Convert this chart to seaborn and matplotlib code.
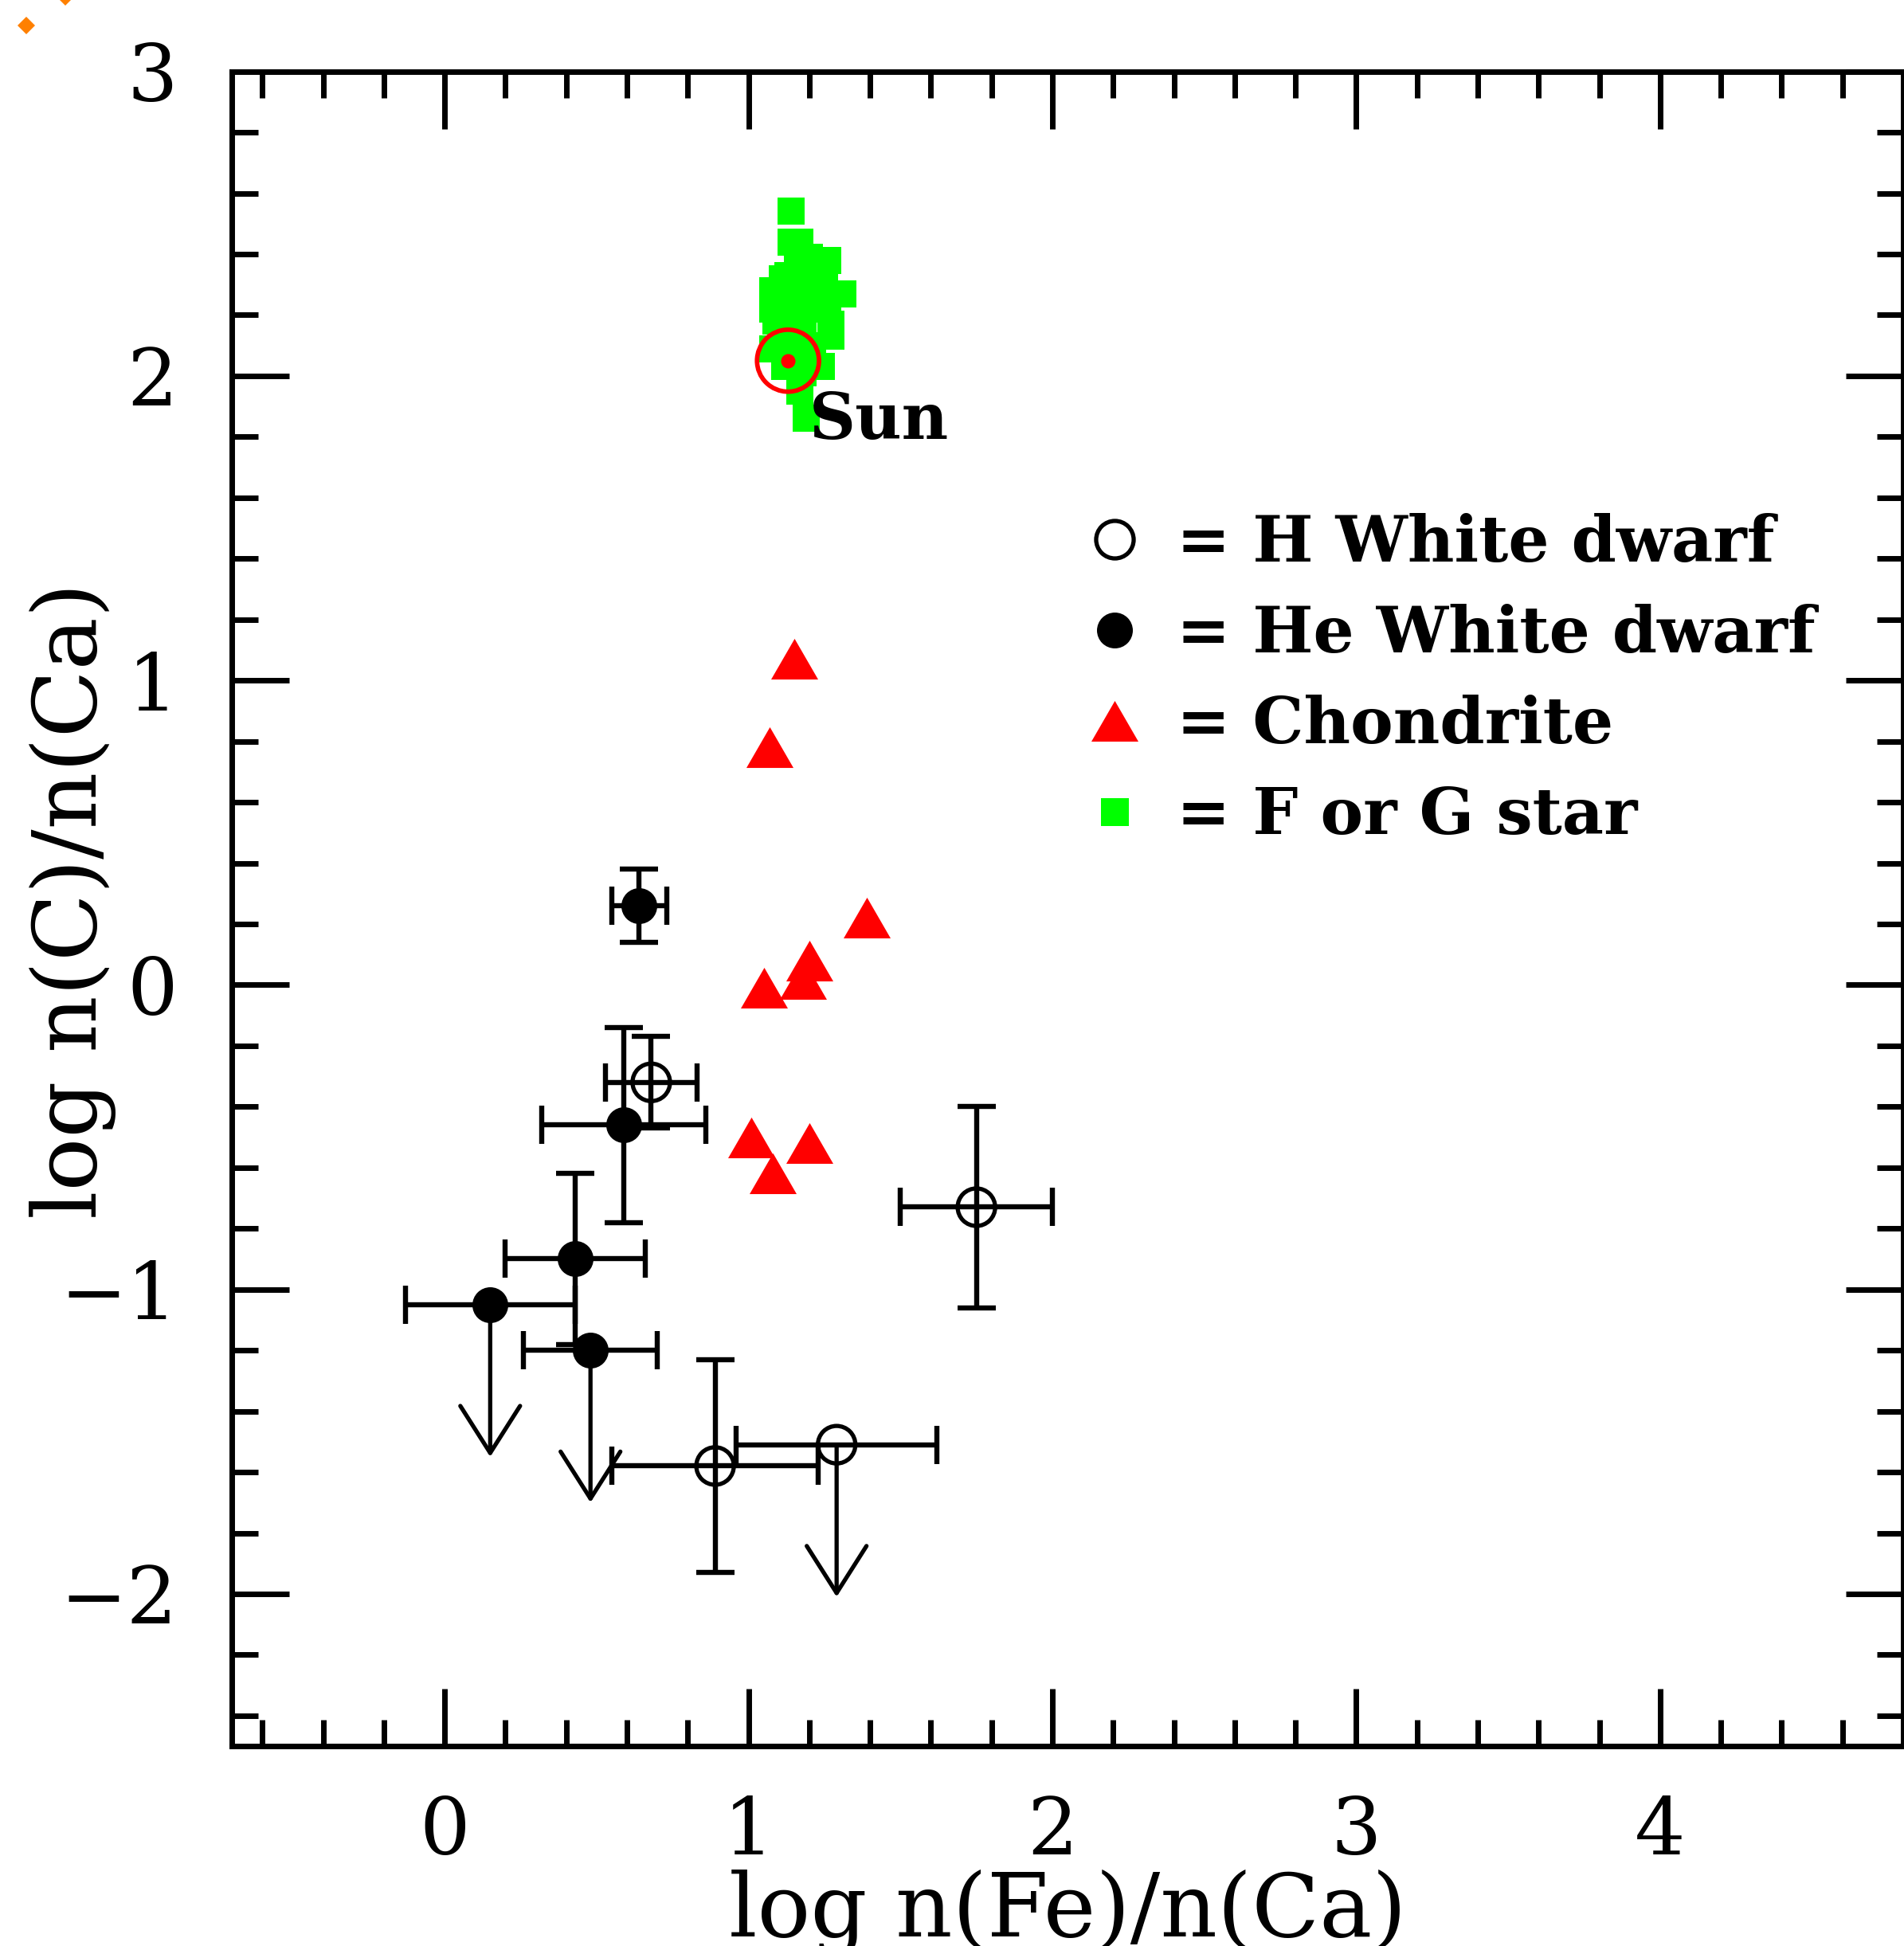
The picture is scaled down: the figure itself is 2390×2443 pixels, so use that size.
import numpy as np
import matplotlib
matplotlib.use("Agg")
import matplotlib.pyplot as plt
from matplotlib.lines import Line2D
from matplotlib.ticker import MultipleLocator
import seaborn as sns

# He white dwarfs (filled circles)
he_fe = [0.64, 0.59, 0.43, 0.15, 0.48]
he_c = [0.26, -0.46, -0.90, -1.05, -1.20]
he_fe_err = [0.09, 0.27, 0.23, 0.28, 0.22]
he_c_err = [0.12, 0.32, 0.28, np.nan, np.nan]
he_uplim = [False, False, False, True, True]

# H white dwarfs (open circles)
h_fe = [0.68, 1.75, 0.89, 1.29]
h_c = [-0.32, -0.73, -1.58, -1.51]
h_fe_err = [0.15, 0.25, 0.34, 0.33]
h_c_err = [0.15, 0.33, 0.35, np.nan]
h_uplim = [False, False, False, True]

# chondrites
ch_fe = [1.15, 1.07, 1.39, 1.20, 1.18, 1.05, 1.01, 1.20, 1.08]
ch_c = [1.07, 0.78, 0.22, 0.08, 0.02, -0.01, -0.50, -0.52, -0.62]

# F and G stars
fg_fe = [1.14, 1.14, 1.17, 1.20, 1.26, 1.13, 1.11, 1.08, 1.31, 1.27,
         1.27, 1.08, 1.09, 1.08, 1.24, 1.12, 1.17, 1.19, 1.16, 1.21,
         1.16, 1.23, 1.18, 1.15, 1.21, 1.16, 1.18, 1.26, 1.13, 1.25]
fg_c = [2.54, 2.44, 2.44, 2.39, 2.38, 2.33, 2.32, 2.28, 2.27, 2.17,
        2.13, 2.22, 2.18, 2.09, 2.03, 2.03, 1.95, 1.86, 2.36, 2.31,
        2.24, 2.26, 2.17, 2.12, 2.10, 2.05, 2.01, 2.22, 2.17, 2.33]

sun_fe = [1.13]
sun_c = [2.05]

legend_labels = ["= H White dwarf", "= He White dwarf", "= Chondrite", "= F or G star"]

sns.set_style("ticks")
plt.rcParams["font.family"] = ["DejaVu Serif"]
plt.rcParams["axes.unicode_minus"] = True
plt.rcParams["text.color"] = "black"
plt.rcParams["axes.labelcolor"] = "black"
plt.rcParams["xtick.color"] = "black"
plt.rcParams["ytick.color"] = "black"

fig = plt.figure(figsize=(23.9, 24.43), dpi=100)
ax = fig.add_axes([0.1218, 0.1027, 0.8778, 0.8606])

tri = [(-0.5, -0.433), (0.5, -0.433), (0.0, 0.433)]
bar_kw = dict(fmt="none", ecolor="k", elinewidth=4.6, capsize=17.5, capthick=4.6, zorder=2)
arrow_len = 0.5

# error bars and upper limits
ax.errorbar(he_fe, he_c, xerr=he_fe_err, yerr=he_c_err, **bar_kw)
ax.errorbar(h_fe, h_c, xerr=h_fe_err, yerr=h_c_err, **bar_kw)
for x, y, lim in zip(he_fe + h_fe, he_c + h_c, he_uplim + h_uplim):
    if lim:
        ax.annotate("", xy=(x, y - arrow_len), xytext=(x, y),
                    arrowprops=dict(arrowstyle="->,head_length=4.25,head_width=2.7",
                                    mutation_scale=10, lw=3.8, color="k",
                                    shrinkA=0, shrinkB=0), zorder=2)

sns.scatterplot(x=fg_fe, y=fg_c, marker="s", s=635, color="#00ff00", linewidth=0, ax=ax, zorder=3)
sns.scatterplot(x=ch_fe, y=ch_c, marker=tri, s=1806, color="#ff0000", linewidth=0, ax=ax, zorder=3)
sns.scatterplot(x=he_fe, y=he_c, marker="o", s=1050, color="k", linewidth=0, ax=ax, zorder=4)
sns.scatterplot(x=h_fe, y=h_c, marker="o", s=1150, facecolor="none", edgecolor="k",
                linewidth=3.8, ax=ax, zorder=4)

# the Sun
sns.scatterplot(x=sun_fe, y=sun_c, marker="o", s=3136, facecolor="none", edgecolor="#ff0000",
                linewidth=4.1, ax=ax, zorder=5)
sns.scatterplot(x=sun_fe, y=sun_c, marker="o", s=169, color="#ff0000", linewidth=0, ax=ax, zorder=5)
ax.annotate("Sun", xy=(sun_fe[0], sun_c[0]), xytext=(19, -71), textcoords="offset points",
            ha="left", va="baseline", fontsize=58, fontweight="bold", zorder=6)

handles = [
    Line2D([], [], ls="none", marker="o", ms=33.9, mfc="none", mec="k", mew=3.8),
    Line2D([], [], ls="none", marker="o", ms=32.4, mfc="k", mec="k", mew=0),
    Line2D([], [], ls="none", marker=tri, ms=42.5, mfc="#ff0000", mec="#ff0000", mew=0),
    Line2D([], [], ls="none", marker="s", ms=25.2, mfc="#00ff00", mec="#00ff00", mew=0),
]
ax.legend(handles, legend_labels, loc="upper left", bbox_to_anchor=(0.5089, 0.7363),
          frameon=False, borderpad=0, borderaxespad=0, handlelength=1.0,
          handletextpad=0.47, labelspacing=0.447, numpoints=1,
          prop=dict(family="DejaVu Serif", weight="bold", size=58))

ax.set_xlim(-0.7, 4.8)
ax.set_ylim(-2.5, 3)
for axis in (ax.xaxis, ax.yaxis):
    axis.set_major_locator(MultipleLocator(1))
    axis.set_minor_locator(MultipleLocator(0.2))
ax.tick_params(which="both", direction="in", top=True, right=True, width=5, color="k",
               labelcolor="k")
ax.tick_params(which="major", length=52, labelsize=72)
ax.tick_params(which="minor", length=24)
ax.tick_params(axis="x", which="major", pad=44)
ax.tick_params(axis="y", which="major", pad=49)
for sp in ax.spines.values():
    sp.set_linewidth(5)
    sp.set_color("k")

ax.set_xlabel("log n(Fe)/n(Ca)", fontsize=80, va="baseline", color="k")
ax.xaxis.set_label_coords(0.5, -0.1137)
ax.set_ylabel("log n(C)/n(Ca)", fontsize=80, rotation_mode="anchor", va="baseline",
              ha="center", color="k")
ax.yaxis.set_label_coords(-0.081, 0.505)

# stray orange marks in the top-left corner of the original
fig.add_artist(Line2D([33 / 2390, 82 / 2390], [1 - 32 / 2443, 1 + 4 / 2443],
                      transform=fig.transFigure, ls="none", marker="D", ms=11,
                      color="#ff8000", mew=0))

fig.savefig("out.png", dpi=100)
